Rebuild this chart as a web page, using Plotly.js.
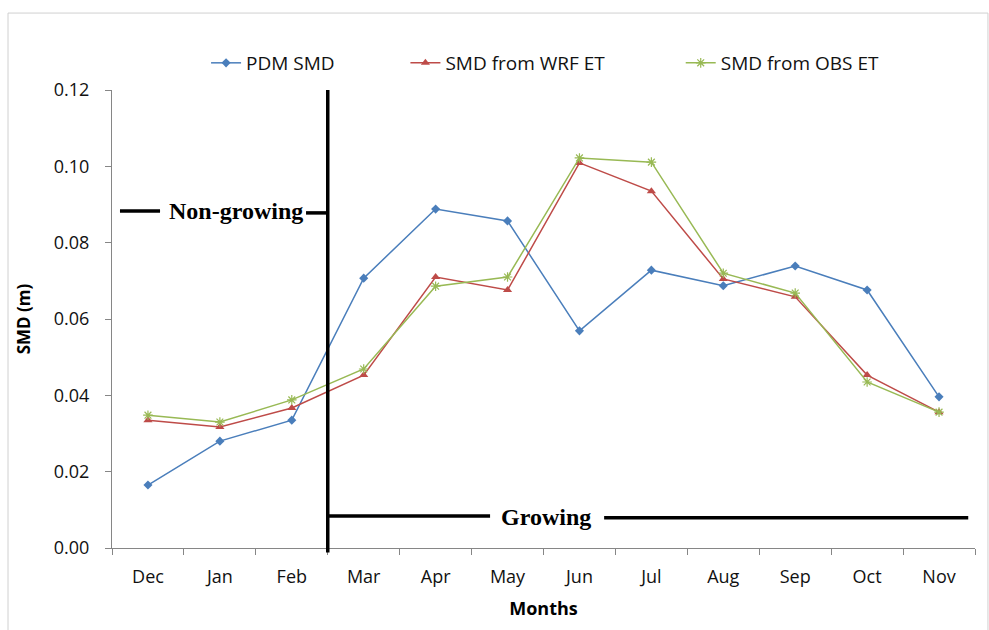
<!DOCTYPE html>
<html><head><meta charset="utf-8">
<script src="https://cdn.plot.ly/plotly-3.0.1.min.js"></script>
<style>html,body{margin:0;padding:0;background:#fff}#chart{width:989px;height:630px}</style>
</head><body><div id="chart"></div>
<script>
const months = ['Dec','Jan','Feb','Mar','Apr','May','Jun','Jul','Aug','Sep','Oct','Nov'];
const pdmSMD = [0.0165,0.028,0.0335,0.0707,0.0888,0.0857,0.0569,0.0728,0.0687,0.0739,0.0676,0.0396];
const wrfSMD = [0.0335,0.0317,0.0367,0.0453,0.0710,0.0676,0.1009,0.0935,0.0705,0.0658,0.0453,0.0356];
const obsSMD = [0.0348,0.0330,0.0388,0.0469,0.0686,0.0710,0.1022,0.1011,0.0720,0.0668,0.0435,0.0356];
const seriesNames = ['PDM SMD','SMD from WRF ET','SMD from OBS ET'];

const fam = '"Open Sans", "Liberation Sans", sans-serif';
const lab = {family:fam, size:18, color:'#111'};
const legFont = {family:fam, size:19, color:'#111'};
const traces = [
  {x:months,y:pdmSMD,name:seriesNames[0],legend:'legend',type:'scatter',mode:'lines+markers',
   line:{color:'#4a7ebb',width:1.5},marker:{symbol:'diamond',size:7,color:'#4a7ebb'}},
  {x:months,y:wrfSMD,name:seriesNames[1],legend:'legend2',type:'scatter',mode:'lines+markers',
   line:{color:'#be4b48',width:1.5},marker:{symbol:'triangle-up',size:8,color:'#be4b48'}},
  {x:months,y:obsSMD,name:seriesNames[2],legend:'legend3',type:'scatter',mode:'lines+markers',
   line:{color:'#98b954',width:1.5},marker:{symbol:'asterisk-open',size:8,color:'#98b954',line:{color:'#98b954',width:1.2}}}
];
const blk = {color:'#000',width:3.5};
const serif = {family:'"Liberation Serif", "Times New Roman", serif',size:24,color:'#000'};
const border = {color:'#d0d0d0',width:1};
const lg = (x) => ({orientation:'h',x:x,xanchor:'left',y:1.059,yanchor:'middle',font:legFont,bgcolor:'rgba(0,0,0,0)'});
const layout = {
  width:989,height:630,paper_bgcolor:'#fff',plot_bgcolor:'#fff',
  margin:{l:112,r:14,t:90,b:82},
  showlegend:true,
  legend:lg(0.109), legend2:lg(0.340), legend3:lg(0.659),
  xaxis:{type:'category',range:[-0.5,11.5],showline:true,linecolor:'#868686',linewidth:1,
    ticks:'outside',tickson:'boundaries',ticklen:6,tickcolor:'#868686',showgrid:false,zeroline:false,
    tickfont:lab,ticklabelstandoff:12,
    title:{text:'<b>Months</b>',font:{family:fam,size:18,color:'#000'},standoff:15}},
  yaxis:{range:[0,0.12],dtick:0.02,tickformat:'.2f',showline:true,linecolor:'#868686',linewidth:1,
    ticks:'outside',ticklen:6,tickcolor:'#868686',showgrid:false,zeroline:false,
    tickfont:lab,ticklabelstandoff:12,
    title:{text:'<b>SMD (m)</b>',font:{family:fam,size:17,color:'#000'},standoff:18}},
  shapes:[
    {type:'line',xref:'x',yref:'paper',x0:2.5,x1:2.5,y0:-0.01,y1:1.0,line:blk},
    {type:'line',xref:'x',yref:'y',x0:-0.389,x1:0.168,y0:0.0883,y1:0.0883,line:blk},
    {type:'line',xref:'x',yref:'y',x0:2.198,x1:2.5,y0:0.0878,y1:0.0878,line:blk},
    {type:'line',xref:'x',yref:'y',x0:2.5,x1:4.757,y0:0.0084,y1:0.0084,line:blk},
    {type:'line',xref:'x',yref:'y',x0:6.343,x1:11.406,y0:0.0079,y1:0.0079,line:blk},
    {type:'line',xref:'paper',yref:'paper',x0:-0.1205,x1:1.015,y0:1.168,y1:1.168,line:border},
    {type:'line',xref:'paper',yref:'paper',x0:1.015,x1:1.015,y0:1.168,y1:-0.2,line:border},
    {type:'line',xref:'paper',yref:'paper',x0:-0.1205,x1:-0.1205,y0:1.168,y1:-0.2,line:border}
  ],
  annotations:[
    {xref:'x',yref:'y',x:1.218,y:0.0883,text:'<b>Non-growing</b>',showarrow:false,font:serif},
    {xref:'x',yref:'y',x:5.536,y:0.0082,text:'<b>Growing</b>',showarrow:false,font:serif}
  ]
};
Plotly.newPlot('chart',traces,layout,{displayModeBar:false});
</script></body></html>
